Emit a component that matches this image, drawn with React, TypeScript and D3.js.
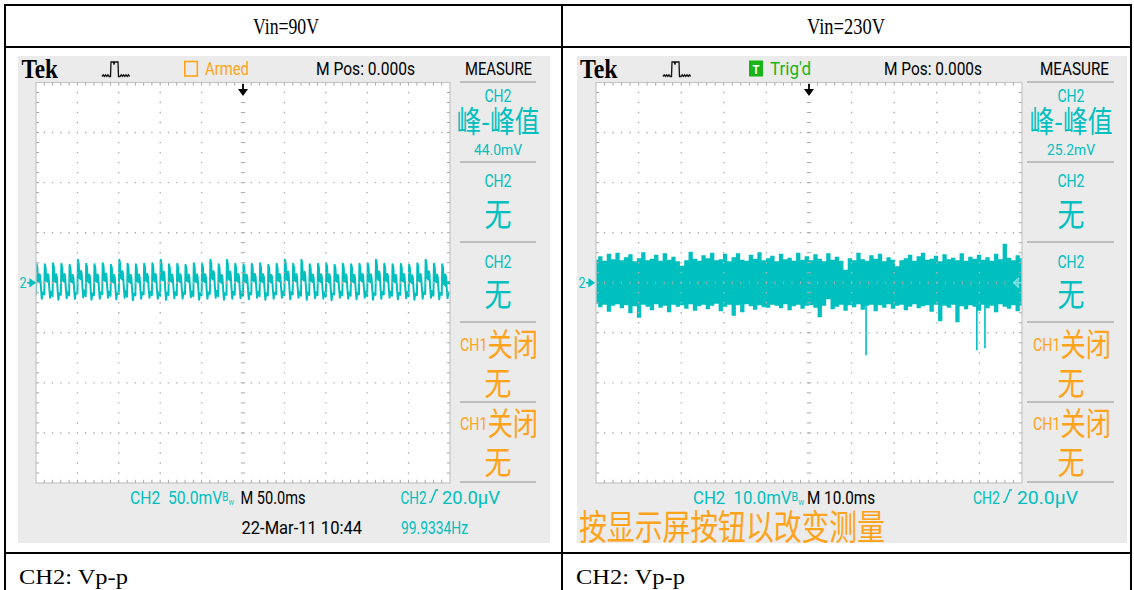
import React from 'react';
import * as d3 from 'd3';

const TEAL = '#00bfbf';
const ORANGE = '#ffa31a';
const GREEN = '#18b418';
const BG = '#ebebeb';
const SANS = 'Roboto, "Noto Sans", sans-serif';
const CJK = '"Noto Sans CJK SC", sans-serif';
const SERIF = '"Liberation Serif", "DejaVu Serif", serif';

// ---------- table labels ----------
const headerLabels = ['Vin=90V', 'Vin=230V'];
const footerLabels = ['CH2: Vp-p', 'CH2: Vp-p'];

// ---------- left scope (Vin=90V) ----------
const leftTimePerDiv = 50; // ms/div
const leftVoltPerDiv = 50; // mV/div
const leftMeasure = '44.0mV';
const leftFreq = '99.9334Hz';
const leftDate = '22-Mar-11 10:44';
// per-cycle top / bottom of the ripple (mV)
const leftCycleTops = [
  19, 18.5, 19.5, 19, 18, 23, 19, 18.5, 19.5, 18,
  23, 19, 18.5, 19, 19.5, 23, 18.5, 19, 18, 19.5,
  19, 23, 18.5, 23, 19, 18.5, 19, 19.5, 18, 19,
  23, 19, 23, 18.5, 19, 19.5, 18, 19, 18.5, 19,
  19.5, 23, 19, 18.5, 19, 18, 19.5, 23, 19, 18.5,
];
const leftCycleBottoms = [
  -16, -15, -17, -15.5, -16, -14.5, -17, -16, -15, -16.5,
  -15, -17.5, -16, -15, -16, -17, -15.5, -16, -14.5, -17,
  -16, -15, -17, -16, -15.5, -16.5, -15, -17, -16, -15,
  -16.5, -15, -17, -15.5, -16, -17.5, -15, -16, -16.5, -15,
  -17, -16, -15, -16.5, -15.5, -17, -16, -15, -16.5, -15.5,
];
// shape of one ripple cycle: phase within the cycle and level between bottom (0) and top (1)
const cyclePhase = [0, 0.06, 0.16, 0.24, 0.38, 0.44, 0.52, 0.6, 0.7, 0.8];
const cycleLevel = [0.1, 1, 0.9, 0.52, 0.48, 0.7, 0.62, 0.3, 0, 0.18];

// ---------- right scope (Vin=230V) ----------
const rightTimePerDiv = 10; // ms/div
const rightVoltPerDiv = 10; // mV/div
const rightMeasure = '25.2mV';
// noise envelope (mV), one value per ms
const rightUpper = [
  4.6, 5.3, 4.4, 5.8, 4.7, 6.0, 4.5, 5.1, 5.7, 4.3,
  4.9, 6.1, 4.5, 4.8, 5.6, 4.4, 5.9, 4.6, 5.2, 4.3,
  3.4, 4.5, 6.2, 4.8, 4.4, 5.5, 4.9, 6.0, 4.5, 4.7,
  5.8, 4.3, 5.1, 5.9, 4.6, 4.4, 5.6, 4.8, 6.1, 4.5,
  4.9, 5.4, 4.3, 5.8, 4.7, 5.0, 4.4, 6.0, 4.6, 5.3,
  4.5, 5.7, 4.8, 4.3, 5.9, 4.6, 5.2, 4.4, 2.6, 4.9,
  4.5, 6.0, 4.7, 4.4, 5.5, 4.8, 5.8, 4.3, 5.1, 4.6,
  3.3, 4.5, 4.9, 5.6, 4.4, 5.3, 6.0, 4.6, 4.8, 5.4,
  4.3, 5.7, 4.7, 5.0, 4.5, 5.9, 4.4, 5.2, 4.8, 5.6,
  4.6, 5.1, 4.4, 5.8, 4.7, 7.8, 5.0, 4.5, 5.5, 4.9,
];
const rightLower = [
  -4.2, -4.9, -4.4, -5.8, -4.6, -4.3, -5.1, -4.5, -6.1, -4.7,
  -7.0, -4.4, -4.8, -5.5, -4.3, -5.0, -4.6, -5.9, -4.4, -4.8,
  -4.5, -5.2, -4.3, -5.6, -4.7, -4.4, -5.3, -4.6, -4.2, -5.7,
  -4.8, -4.4, -6.6, -4.5, -5.9, -4.3, -4.7, -5.4, -4.5, -4.9,
  -5.0, -4.4, -4.6, -5.1, -4.3, -5.5, -4.7, -4.4, -5.2, -4.6,
  -4.5, -5.0, -6.9, -4.6, -3.3, -5.3, -4.8, -4.4, -5.6, -4.5,
  -4.9, -4.3, -5.4, -4.6, -4.4, -5.7, -4.5, -5.0, -4.3, -5.2,
  -4.6, -4.4, -5.5, -4.8, -4.3, -5.1, -4.7, -4.5, -5.8, -4.4,
  -7.7, -4.6, -5.0, -4.4, -7.9, -4.7, -5.3, -4.5, -4.8, -5.6,
  -4.4, -5.1, -4.6, -5.9, -4.3, -4.8, -5.2, -4.5, -5.7, -4.6,
];
const rightSpikeTimes = [63.4, 89.4, 91.3];
const rightSpikeValues = [-14.5, -13.5, -13.1];

// ---------- geometry ----------
const GY0 = 82.5;
const GY1 = 483;
const BGY0 = 56;
const BGY1 = 543;
const PANEL_LINES = [82, 162, 242, 322, 402, 482];

type TProps = {
  x: number; y: number; w?: number; size: number; fill?: string; anchor?: string;
  family?: string; weight?: string | number; children: React.ReactNode;
};
function T({ x, y, w, size, fill = '#000', anchor = 'start', family = SANS, weight, children }: TProps) {
  return (
    <text x={x} y={y} fontSize={size} fill={fill} textAnchor={anchor as any} fontFamily={family}
      fontWeight={weight} textLength={w} lengthAdjust={w ? 'spacingAndGlyphs' : undefined}>
      {children}
    </text>
  );
}

function Grid({ x0, x1 }: { x0: number; x1: number }) {
  const xs = d3.scaleLinear().domain([0, 10]).range([x0, x1]);
  const ys = d3.scaleLinear().domain([0, 8]).range([GY0, GY1]);
  let dots = '';
  let ticks = '';
  const dot = (x: number, y: number) => `M${x - 0.7},${y - 0.7}h1.4v1.4h-1.4z`;
  for (let i = 1; i < 10; i++) {
    if (i === 5) continue;
    for (let j = 1; j < 40; j++) dots += dot(xs(i), ys(j / 5));
  }
  for (let j = 1; j < 8; j++) {
    if (j === 4) continue;
    for (let i = 1; i < 50; i++) dots += dot(xs(i / 5), ys(j));
  }
  for (let j = 1; j < 40; j++) ticks += `M${xs(5) - 2.2},${ys(j / 5)}h4.4`;
  for (let i = 1; i < 50; i++) ticks += `M${xs(i / 5)},${ys(4) - 1.3}v2.6`;
  for (let i = 1; i < 50; i++) {
    const x = xs(i / 5);
    ticks += `M${x},${GY0}v3.2M${x},${GY1}v-3.2`;
  }
  for (let j = 1; j < 40; j++) {
    const y = ys(j / 5);
    ticks += `M${x0},${y}h3.2M${x1},${y}h-3.2`;
  }
  return (
    <g>
      <rect x={x0} y={GY0} width={x1 - x0} height={GY1 - GY0} fill="none" stroke="#c9c9c9" strokeWidth={1.3} />
      <path d={ticks} stroke="#ababab" strokeWidth={1} fill="none" />
      <path d={dots} fill="#b0b0b0" />
    </g>
  );
}

function TrigIcon({ x }: { x: number }) {
  const d =
    `M${x},76.5 l1.2,-1.6 l1.2,1.6 l1.2,-1.6 l1.2,1.6 l1.2,-1.6 l1.2,1.6 L${x + 8.5},76.5 ` +
    `L${x + 9},62 L${x + 11.5},62 L${x + 12},64.5 L${x + 12.6},62 L${x + 16},62 L${x + 16.5},76.5 ` +
    `L${x + 18},76.5 l1.2,-1.6 l1.2,1.6 l1.2,-1.6 l1.2,1.6 l1.2,-1.6 l1.2,1.6 l1.2,-1.6 l1.2,1.6`;
  return <path d={d} fill="none" stroke="#111" strokeWidth={1.3} />;
}

function Ch1Off({ x, y }: { x: number; y: number }) {
  return (
    <text x={x} y={y} fill={ORANGE} textLength={78} lengthAdjust="spacingAndGlyphs">
      <tspan fontFamily={SANS} fontSize={18}>CH1</tspan>
      <tspan fontFamily={CJK} fontSize={32} dy={5.5}>关闭</tspan>
    </text>
  );
}

function Panel({ cx, x0, x1, value }: { cx: number; x0: number; x1: number; value: string }) {
  const c1 = cx - 38;
  return (
    <g>
      {PANEL_LINES.map((y) => (
        <line key={y} x1={x0} x2={x1} y1={y} y2={y} stroke="#bdbdbd" strokeWidth={2} />
      ))}
      <T x={cx} y={101.5} w={27} size={18} fill={TEAL} anchor="middle">CH2</T>
      <T x={cx} y={132} w={83} size={30} fill={TEAL} anchor="middle" family={CJK}>峰-峰值</T>
      <T x={cx} y={155} w={48} size={15.5} fill={TEAL} anchor="middle">{value}</T>
      <T x={cx} y={187} w={27} size={18} fill={TEAL} anchor="middle">CH2</T>
      <T x={cx} y={226} w={27} size={32} fill={TEAL} anchor="middle" family={CJK}>无</T>
      <T x={cx} y={268} w={27} size={18} fill={TEAL} anchor="middle">CH2</T>
      <T x={cx} y={306} w={27} size={32} fill={TEAL} anchor="middle" family={CJK}>无</T>
      <Ch1Off x={c1} y={350.5} />
      <T x={cx} y={395} w={27} size={32} fill={ORANGE} anchor="middle" family={CJK}>无</T>
      <Ch1Off x={c1} y={429.5} />
      <T x={cx} y={474} w={27} size={32} fill={ORANGE} anchor="middle" family={CJK}>无</T>
    </g>
  );
}

function EdgeSym({ x, y }: { x: number; y: number }) {
  return <path d={`M${x},${y} h2 L${x + 7},${y - 12} h2`} fill="none" stroke={TEAL} strokeWidth={1.4} />;
}

function DownArrow({ x }: { x: number }) {
  return (
    <g fill="#000">
      <rect x={x - 0.9} y={84} width={1.8} height={6} />
      <path d={`M${x - 5},89 L${x + 5},89 L${x},96 Z`} />
    </g>
  );
}

function VoltLabel({ x, w, value }: { x: number; w: number; value: string }) {
  return (
    <text x={x} y={504} fill={TEAL} fontFamily={SANS} fontSize={19} textLength={w} lengthAdjust="spacingAndGlyphs">
      {`CH2\u00a0\u00a0${value}`}
      <tspan fontSize={12} dy={-3}>B</tspan>
      <tspan fontSize={7.5} dy={4}>W</tspan>
    </text>
  );
}

function LeftScope() {
  const gx0 = 36, gx1 = 450;
  const lx = d3.scaleLinear().domain([0, leftTimePerDiv * 10]).range([gx0, gx1]);
  const ly = d3.scaleLinear().domain([-leftVoltPerDiv * 4, leftVoltPerDiv * 4]).range([GY1, GY0]);
  const period = (leftTimePerDiv * 10) / leftCycleTops.length;
  const pts: [number, number][] = [];
  leftCycleTops.forEach((top, i) => {
    const bot = leftCycleBottoms[i];
    cyclePhase.forEach((p, k) => pts.push([(i + p) * period, bot + (top - bot) * cycleLevel[k]]));
  });
  const lastI = leftCycleTops.length - 1;
  pts.push([leftTimePerDiv * 10, leftCycleBottoms[lastI] + (leftCycleTops[lastI] - leftCycleBottoms[lastI]) * cycleLevel[0]]);
  const line = d3.line<[number, number]>().x((d) => lx(d[0])).y((d) => ly(d[1]));
  const cy = ly(0);
  return (
    <g>
      <rect x={18} y={BGY0} width={532} height={BGY1 - BGY0} fill={BG} />
      <rect x={gx0} y={GY0} width={gx1 - gx0} height={GY1 - GY0} fill="#fff" />
      <clipPath id="clipL"><rect x={gx0} y={GY0} width={gx1 - gx0} height={GY1 - GY0} /></clipPath>
      <path d={line(pts) || ''} fill="none" stroke={TEAL} strokeWidth={2} strokeLinejoin="round" clipPath="url(#clipL)" />
      <Grid x0={gx0} x1={gx1} />
      {/* top bar */}
      <T x={21.5} y={78} w={36.5} size={27} family={SERIF} weight="bold">Tek</T>
      <TrigIcon x={102} />
      <rect x={184.8} y={61.5} width={12.5} height={14.5} fill="none" stroke={ORANGE} strokeWidth={1.6} />
      <T x={205} y={75} w={44} size={18} fill={ORANGE}>Armed</T>
      <T x={316} y={75} w={99} size={18}>M Pos: 0.000s</T>
      <T x={465} y={75} w={67} size={18}>MEASURE</T>
      <DownArrow x={lx(leftTimePerDiv * 5)} />
      {/* markers */}
      <T x={19.5} y={288} w={7} size={15} fill={TEAL}>2</T>
      <path d={`M27,${cy} h4 M30,${cy - 3.5} l5,3.5 l-5,3.5z`} stroke={TEAL} strokeWidth={1.3} fill={TEAL} />
      <path d={`M441,${cy} l5,-4.5 v3 h4 v3 h-4 v3 z`} fill={TEAL} />
      <Panel cx={498} x0={460} x1={536} value={leftMeasure} />
      {/* bottom */}
      <VoltLabel x={130} w={104} value="50.0mV" />
      <T x={240.5} y={504} w={65} size={19}>M 50.0ms</T>
      <T x={400.5} y={504} w={26} size={19} fill={TEAL}>CH2</T>
      <EdgeSym x={429} y={502} />
      <T x={442} y={504} w={58} size={19} fill={TEAL}>20.0μV</T>
      <T x={241.5} y={534} w={120.5} size={19}>{leftDate}</T>
      <T x={401} y={534} w={67} size={19} fill={TEAL}>{leftFreq}</T>
    </g>
  );
}

function RightScope() {
  const gx0 = 596, gx1 = 1022;
  const rx = d3.scaleLinear().domain([0, rightTimePerDiv * 10]).range([gx0, gx1]);
  const ry = d3.scaleLinear().domain([-rightVoltPerDiv * 4, rightVoltPerDiv * 4]).range([GY1, GY0]);
  const step = (rightTimePerDiv * 10) / (rightUpper.length - 1);
  const area = d3
    .area<number>()
    .x((_, i) => rx(i * step))
    .y0((_, i) => ry(rightLower[i]))
    .y1((d) => ry(d))
    .curve(d3.curveStep);
  const cy = ry(0);
  return (
    <g>
      <rect x={577} y={BGY0} width={550} height={BGY1 - BGY0} fill={BG} />
      <rect x={gx0} y={GY0} width={gx1 - gx0} height={GY1 - GY0} fill="#fff" />
      <clipPath id="clipR"><rect x={gx0} y={GY0} width={gx1 - gx0} height={GY1 - GY0} /></clipPath>
      <clipPath id="clipRB"><rect x={577} y={BGY0} width={550} height={BGY1 - BGY0} /></clipPath>
      <g clipPath="url(#clipR)">
        <path d={area(rightUpper) || ''} fill={TEAL} />
        {rightSpikeTimes.map((t, i) => (
          <line key={i} x1={rx(t)} x2={rx(t)} y1={ry(-4)} y2={ry(rightSpikeValues[i])} stroke={TEAL} strokeWidth={1.6} />
        ))}
      </g>
      <Grid x0={gx0} x1={gx1} />
      {/* top bar */}
      <T x={580} y={78} w={37.5} size={27} family={SERIF} weight="bold">Tek</T>
      <TrigIcon x={663} />
      <rect x={749} y={60.5} width={14} height={16} fill={GREEN} />
      <T x={756} y={73.5} w={7} size={13} fill="#fff" anchor="middle" weight="bold">T</T>
      <T x={770} y={75} w={41} size={18} fill={GREEN}>Trig'd</T>
      <T x={884} y={75} w={98} size={18}>M Pos: 0.000s</T>
      <T x={1040} y={75} w={69} size={18}>MEASURE</T>
      <DownArrow x={rx(rightTimePerDiv * 5)} />
      {/* markers */}
      <T x={578.5} y={288} w={7} size={15} fill={TEAL}>2</T>
      <path d={`M586,${cy} h4 M589,${cy - 3.5} l5,3.5 l-5,3.5z`} stroke={TEAL} strokeWidth={1.3} fill={TEAL} />
      <path d={`M1019,${cy - 5} l-5,5 l5,5 M1014,${cy} h8 M1018,${cy - 4} v8`} fill="none" stroke="#7fdede" strokeWidth={1.6} />
      <Panel cx={1071} x0={1027} x1={1114} value={rightMeasure} />
      {/* bottom */}
      <VoltLabel x={693} w={111} value="10.0mV" />
      <T x={807} y={504} w={68} size={19}>M 10.0ms</T>
      <T x={973} y={504} w={27} size={19} fill={TEAL}>CH2</T>
      <EdgeSym x={1003} y={502} />
      <T x={1017} y={504} w={61} size={19} fill={TEAL}>20.0μV</T>
      <g clipPath="url(#clipRB)">
        <T x={579} y={540} w={306} size={35} fill={ORANGE} family={CJK}>按显示屏按钮以改变测量</T>
      </g>
    </g>
  );
}

export default function App() {
  return (
    <svg width={1134} height={590} viewBox="0 0 1134 590"
      style={{ position: 'absolute', left: 0, top: 0, display: 'block', background: '#fff' }}>
      <rect x={0} y={0} width={1134} height={590} fill="#fff" />
      <LeftScope />
      <RightScope />
      {/* table */}
      <g stroke="#000" strokeWidth={2} fill="none">
        <line x1={5} x2={1131} y1={5} y2={5} />
        <line x1={5} x2={1131} y1={47} y2={47} />
        <line x1={5} x2={1131} y1={553} y2={553} />
        <line x1={5} x2={5} y1={4} y2={590} />
        <line x1={562} x2={562} y1={4} y2={590} />
        <line x1={1131} x2={1131} y1={4} y2={590} />
      </g>
      <T x={286} y={34} w={66} size={24} family={SERIF} anchor="middle">{headerLabels[0]}</T>
      <T x={846} y={34} w={78} size={24} family={SERIF} anchor="middle">{headerLabels[1]}</T>
      <T x={19} y={584} w={109} size={21} family={SERIF}>{footerLabels[0]}</T>
      <T x={576} y={584} w={109} size={21} family={SERIF}>{footerLabels[1]}</T>
    </svg>
  );
}
